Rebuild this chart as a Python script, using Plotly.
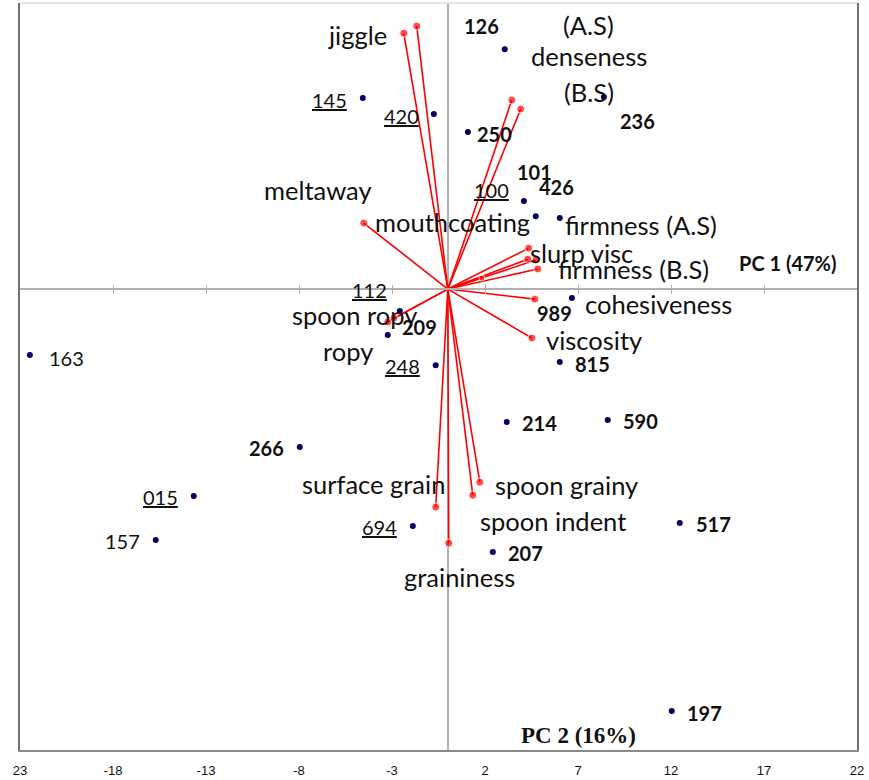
import plotly.graph_objects as go

# ---------------- data ----------------
SAMPLES = ["126", "145", "420", "250", "236", "100", "101", "426", "112", "209", "248",
           "163", "989", "815", "214", "590", "266", "015", "157", "694", "207", "517", "197"]
SAMPLE_PC1 = [3.06, -4.57, -0.75, 1.08, 8.39, 4.09, 4.73, 6.02, -2.58, -3.23, -0.65,
              -22.47, 6.67, 6.02, 3.17, 8.60, -7.96, -13.66, -15.70, -1.88, 2.42, 12.47, 12.04]
SAMPLE_PC2 = [12.90, 10.27, 9.41, 8.44, 10.32, 4.73, 3.92, 3.82, -1.18, -2.47, -4.09,
              -3.55, -0.48, -3.92, -7.15, -7.04, -8.49, -11.13, -13.49, -12.74, -14.14, -12.58, -22.69]
UNDERLINED = ["145", "420", "100", "112", "248", "015", "694"]
PLAIN = ["163", "157"]

ATTRIBUTES = ["jiggle", "jiggle 2", "denseness (A.S)", "denseness (B.S)", "meltaway",
              "firmness (A.S)", "slurp visc", "attr 3", "firmness (B.S)", "mouthcoating",
              "cohesiveness", "viscosity", "spoon ropy", "ropy", "surface grain",
              "graininess", "spoon indent", "spoon grainy"]
LOAD_PC1 = [-2.37, -1.67, 3.44, 3.92, -4.52, 4.35, 4.30, 4.73, 4.84, 1.83,
            4.68, 4.52, -3.23, -2.90, -0.65, 0.05, 1.34, 1.72]
LOAD_PC2 = [13.76, 14.14, 10.16, 9.68, 3.55, 2.20, 1.61, 1.56, 1.08, 0.59,
            -0.54, -2.63, -1.77, -1.56, -11.72, -13.66, -11.08, -10.38]
# displayed label text for each vector ("" = unlabelled)
ATTR_TEXT = ["jiggle", "", "(A.S)", "(B.S)", "meltaway", "firmness (A.S)", "slurp visc", "",
             "firmness (B.S)", "mouthcoating", "cohesiveness", "viscosity", "spoon ropy", "ropy",
             "surface grain", "graininess", "spoon indent", "spoon grainy"]

X_TICKS = [-23, -18, -13, -8, -3, 2, 7, 12, 17, 22]
X_TICKTEXT = ["23", "-18", "-13", "-8", "-3", "2", "7", "12", "17", "22"]
X_RANGE = [-23, 22]
Y_RANGE = [-24.78, 15.38]

# ---------------- label placement (pixel offsets) ----------------
SAMPLE_DX = [-23, -33, -32, 27, 34, -32, -1, -3, -30, 32, -33, 37, -17, 33, 33, 33, -33, -33, -33, -33, 33, 34, 33]
SAMPLE_DY = [-23, 2, 2, 2, 24, -11, -44, -31, -21, -8, 1, 3, 15, 2, 1, 1, 1, 1, 1, 1, 1, 1, 2]
ATTR_DX = [-46, 0, 77, 68, -46, 112, 54, 0, 96, -29, 124, 62, -33, -46, -62, 11, 80, 87]
ATTR_DY = [2, 0, -75, -17, -33, -23, -6, 0, 0, -56, 5, 2, -7, 33, -23, 34, 26, 3]
ATTR_DOT = [8, 8, 8, 8, 8, 8, 8, 8, 8, 6, 8, 8, 8, 8, 8, 8, 8, 8]

RED = "#ff0000"
NAVY = "#000066"
TXT = "#111111"
LABEL_FONT = "Lato, Carlito, 'Open Sans', sans-serif"

fig = go.Figure()

# loading vectors (lines from origin)
lx, ly = [], []
for a, b in zip(LOAD_PC1, LOAD_PC2):
    lx += [0, a, None]
    ly += [0, b, None]
fig.add_trace(go.Scatter(x=lx, y=ly, mode="lines", line=dict(color=RED, width=1.6),
                         hoverinfo="skip", showlegend=False))
fig.add_trace(go.Scatter(x=LOAD_PC1, y=LOAD_PC2, mode="markers", text=ATTRIBUTES,
                         marker=dict(color=RED, size=ATTR_DOT), showlegend=False))

# samples
fig.add_trace(go.Scatter(x=SAMPLE_PC1, y=SAMPLE_PC2, mode="markers", text=SAMPLES,
                         marker=dict(color=NAVY, size=6), showlegend=False))

# dummy traces so the crossing axis ticks render
fig.add_trace(go.Scatter(x=[None], y=[None], xaxis="x2", showlegend=False, hoverinfo="skip"))
fig.add_trace(go.Scatter(x=[None], y=[None], xaxis="x3", showlegend=False, hoverinfo="skip"))

annotations = []
for name, x, y, dx, dy in zip(SAMPLES, SAMPLE_PC1, SAMPLE_PC2, SAMPLE_DX, SAMPLE_DY):
    if name in UNDERLINED:
        t = "<u>" + name + "</u>"
    elif name in PLAIN:
        t = name
    else:
        t = "<b>" + name + "</b>"
    annotations.append(dict(x=x, y=y, xref="x", yref="y", text=t, showarrow=False,
                            xanchor="center", yanchor="middle",
                            xshift=dx, yshift=-dy, font=dict(family=LABEL_FONT, size=20, color=TXT)))

for t, x, y, dx, dy in zip(ATTR_TEXT, LOAD_PC1, LOAD_PC2, ATTR_DX, ATTR_DY):
    if not t:
        continue
    annotations.append(dict(x=x, y=y, xref="x", yref="y", text=t, showarrow=False,
                            xanchor="center", yanchor="middle",
                            xshift=dx, yshift=-dy, font=dict(family=LABEL_FONT, size=25.5, color=TXT)))
# shared "denseness" label between (A.S) and (B.S)
annotations.append(dict(x=LOAD_PC1[2], y=LOAD_PC2[2], xref="x", yref="y", text="denseness",
                        showarrow=False, xanchor="center", yanchor="middle", xshift=77, yshift=44,
                        font=dict(family=LABEL_FONT, size=25.5, color=TXT)))

# axis titles
annotations.append(dict(x=0.918, y=0.652, xref="paper", yref="paper", text="<b>PC 1 (47%)</b>",
                        xanchor="center", yanchor="middle",
                        showarrow=False, font=dict(family=LABEL_FONT, size=20, color=TXT)))
annotations.append(dict(x=0.667, y=0.019, xref="paper", yref="paper", text="<b>PC 2 (16%)</b>",
                        xanchor="center", yanchor="middle",
                        showarrow=False, font=dict(family="'Liberation Serif', 'Times New Roman', serif",
                                                   size=23, color=TXT)))

zero_frac = (0 - Y_RANGE[0]) / (Y_RANGE[1] - Y_RANGE[0])
inner_ticks = X_TICKS[1:-1]

fig.update_layout(
    width=869, height=780,
    margin=dict(l=20, r=12, t=3, b=30),
    paper_bgcolor="white", plot_bgcolor="white",
    showlegend=False,
    annotations=annotations,
    shapes=[dict(type="line", xref="paper", yref="paper", x0=0, x1=1, y0=1, y1=1,
                 line=dict(color="#e4e4e4", width=2))],
    xaxis=dict(range=X_RANGE, tickvals=X_TICKS, ticktext=X_TICKTEXT, showgrid=False,
               zeroline=True, zerolinecolor="#b0b0b0", zerolinewidth=1.5,
               showline=True, linecolor="#8a8a8a", linewidth=1.5, mirror=False,
               ticks="", ticklabelstandoff=8,
               tickfont=dict(family="'Liberation Sans', Arial, sans-serif", size=13, color="#111")),
    yaxis=dict(range=Y_RANGE, showgrid=False, zeroline=False, showticklabels=False, ticks="",
               showline=True, linecolor="#707070", linewidth=1.5, mirror=True),
    xaxis2=dict(range=X_RANGE, overlaying="x", anchor="free", position=zero_frac, side="bottom",
                showgrid=False, zeroline=False, showline=True, linecolor="#b0b0b0", linewidth=1.5,
                tickvals=inner_ticks, ticks="outside", ticklen=4, tickcolor="#b0b0b0",
                showticklabels=False),
    xaxis3=dict(range=X_RANGE, overlaying="x", anchor="free", position=zero_frac, side="bottom",
                showgrid=False, zeroline=False, showline=False,
                tickvals=inner_ticks, ticks="inside", ticklen=4, tickcolor="#b0b0b0",
                showticklabels=False),
)

fig.write_html("out.html", config={"displayModeBar": False},
               post_script="document.body.style.margin='0';document.body.style.overflow='hidden';")
